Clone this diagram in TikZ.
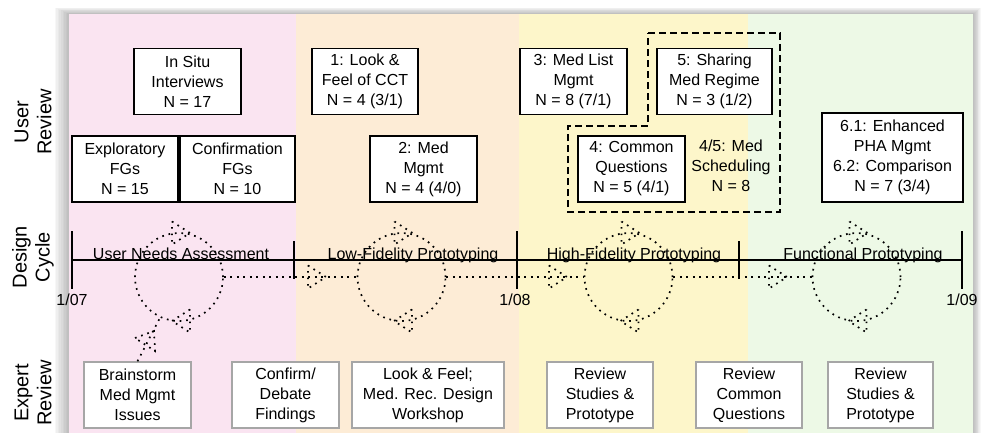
\documentclass[tikz,border=0pt]{standalone}
\usepackage{fontspec}
\setmainfont{Liberation Sans}
\usetikzlibrary{calc}
\definecolor{bandpink}{RGB}{250,228,241}
\definecolor{bandpeach}{RGB}{253,236,214}
\definecolor{bandyellow}{RGB}{253,246,202}
\definecolor{bandgreen}{RGB}{237,249,230}
\definecolor{boxgray}{RGB}{166,166,166}
\begin{document}
\begin{tikzpicture}[x=1pt,y=-1pt,
  lbl/.style={font=\fontsize{16}{20}\selectfont, align=center, inner sep=0pt},
  ubox/.style={lbl, draw=black, line width=1.4pt, fill=white, minimum height=66},
  ebox/.style={lbl, draw=boxgray, line width=1.5pt, fill=white, minimum height=66},
  side/.style={font=\fontsize{20}{23}\selectfont, align=center, rotate=90, inner sep=0pt},
  phase/.style={font=\fontsize{16}{20}\selectfont, anchor=base, inner sep=0pt},
  dotline/.style={line width=1.7pt, dash pattern=on 1.7pt off 4.8pt},
  cyc/.style={circle, draw, dotline, minimum size=88, inner sep=0pt},
  axis/.style={line width=1.5pt},
  groupline/.style={line width=1.8pt, dash pattern=on 7pt off 4pt},
  opentip/.pic={\draw[dotline] (0,-11.5) -- (18,0) -- (0,11.5) -- cycle;}
]
\useasboundingbox (0,0) rectangle (982,433);

% soft shadow around the panel
\foreach \i in {1,...,9}
  \fill[black, opacity=0.03] (69-1.6*\i, 14-0.7*\i) rectangle (973+0.9*\i, 433);

% phase bands
\fill[bandpink]   (69,14)  rectangle (296,433);
\fill[bandpeach]  (296,14) rectangle (519,433);
\fill[bandyellow] (519,14) rectangle (748,433);
\fill[bandgreen]  (748,14) rectangle (973,433);

% row labels
\node[side] (lUser)   at (33,122) {User\\Review};
\node[side] (lDesign) at (33,257) {Design\\Cycle};
\node[side] (lExpert) at (33,393) {Expert\\Review};

% time axis
\coordinate (t0) at (72,260);
\coordinate (t1) at (294,260);
\coordinate (t2) at (517,260);
\coordinate (t3) at (739,260);
\coordinate (t4) at (962,260);
\draw[axis] (t0) -- (t4);
\draw[axis] ($(t0)+(0,-29)$) -- ($(t0)+(0,29)$);
\draw[axis] ($(t1)+(0,-19)$) -- ($(t1)+(0,19)$);
\draw[axis] ($(t2)+(0,-29)$) -- ($(t2)+(0,29)$);
\draw[axis] ($(t3)+(0,-19)$) -- ($(t3)+(0,19)$);
\draw[axis] ($(t4)+(0,-29)$) -- ($(t4)+(0,29)$);

\node[phase] (d0) at (72,305) {1/07};
\node[phase] (d1) at (515,305) {1/08};
\node[phase] (d2) at (962,305) {1/09};

\node[phase] (p1) at (181,259) {User Needs Assessment};
\node[phase] (p2) at (413,259) {Low-Fidelity Prototyping};
\node[phase] (p3) at (634,259) {High-Fidelity Prototyping};
\node[phase] (p4) at (863,259) {Functional Prototyping};

% iteration cycles
\node[cyc] (c1) at (179,277) {};
\node[cyc] (c2) at (401.5,277) {};
\node[cyc] (c3) at (628.5,277) {};
\node[cyc] (c4) at (856.5,277) {};

\pic at (172,233) {opentip};
\pic at (394.5,233) {opentip};
\pic at (621.5,233) {opentip};
\pic at (849.5,233) {opentip};
\pic[xscale=-1] at (190,321) {opentip};
\pic[xscale=-1] at (412,321) {opentip};
\pic[xscale=-1] at (638.5,321) {opentip};
\pic[xscale=-1] at (866.5,321) {opentip};

\draw[dotline] (c1.east) -- (c2.west);
\draw[dotline] (c2.east) -- (c3.west);
\draw[dotline] (c3.east) -- (c4.west);
\pic at (308,277) {opentip};
\pic at (549,277) {opentip};
\pic at (769,277) {opentip};

% user review studies
\node[ubox, minimum width=107] (insitu)  at (187.5,81.5) {In Situ\\Interviews\\N = 17};
\node[ubox, minimum width=106] (look)    at (365,81.5)   {1: Look \&\\Feel of CCT\\N = 4 (3/1)};
\node[ubox, minimum width=107] (medlist) at (573.5,81.5) {3: Med List\\Mgmt\\N = 8 (7/1)};
\node[ubox, minimum width=115] (sharing) at (714.5,81.5) {5: Sharing\\Med Regime\\N = 3 (1/2)};

\node[ubox, minimum width=106] (explor)  at (125,169)   {Exploratory\\FGs\\N = 15};
\node[ubox, minimum width=115] (confirm) at (237.5,169) {Confirmation\\FGs\\N = 10};
\node[ubox, minimum width=107] (medmgmt) at (423.5,169) {2: Med\\Mgmt\\N = 4 (4/0)};
\node[ubox, minimum width=107] (common)  at (631.5,169) {4: Common\\Questions\\N = 5 (4/1)};
\node[lbl] (sched) at (731,166) {4/5: Med\\Scheduling\\N = 8};
\node[ubox, minimum width=141, minimum height=89] (pha) at (892.5,157.5)
  {6.1: Enhanced\\PHA Mgmt\\6.2: Comparison\\N = 7 (3/4)};

% grouping of studies 4 and 5
\draw[groupline] (648,33) -- (780,33) -- (780,212) -- (568,212) -- (568,126) -- (648,126) -- cycle;

% expert review sessions
\node[ebox, minimum width=107] (brain)    at (137.5,395) {Brainstorm\\Med Mgmt\\Issues};
\node[ebox, minimum width=107] (debate)   at (285.5,395) {Confirm/\\Debate\\Findings};
\node[ebox, minimum width=152] (lookfeel) at (428,395)   {Look \& Feel;\\Med. Rec. Design\\Workshop};
\node[ebox, minimum width=106] (review1)  at (600,395)   {Review\\Studies \&\\Prototype};
\node[ebox, minimum width=106] (reviewcq) at (749,395)   {Review\\Common\\Questions};
\node[ebox, minimum width=105] (review2)  at (880.5,395) {Review\\Studies \&\\Prototype};

% brainstorm feeds the first cycle
\draw[dotline] (brain.north) -- (c1.245);
\draw[dotline] (135,338) -- (154,331) -- (155,351) -- cycle;
\end{tikzpicture}
\end{document}
